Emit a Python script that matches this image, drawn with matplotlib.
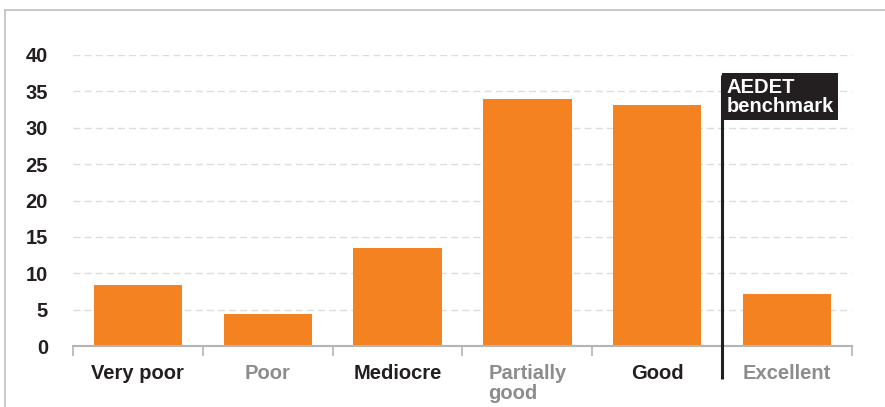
import matplotlib.pyplot as plt
from matplotlib.lines import Line2D
import numpy as np

plt.rcParams['font.family'] = ['Liberation Sans', 'DejaVu Sans']

categories = ['Very poor', 'Poor', 'Mediocre', 'Partially\ngood', 'Good', 'Excellent']
values = [8.4, 4.4, 13.5, 33.9, 33.1, 7.1]
label_colors = ['#231f20', '#8c8c8e', '#231f20', '#8c8c8e', '#231f20', '#8c8c8e']
yticks = [0, 5, 10, 15, 20, 25, 30, 35, 40]
benchmark_pos = 4.5

orange = '#f58220'
dark = '#231f20'

fig = plt.figure(figsize=(8.85, 4.07), dpi=100)
ax = fig.add_axes([73/885, 1 - 346/407, (852 - 73)/885, (346 - 55)/407])

x = np.arange(len(categories))
ax.bar(x, values, width=0.68, color=orange, zorder=2)

ax.set_xlim(-0.5, len(categories) - 0.5)
ax.set_ylim(0, 40)

# dashed grid
ax.set_yticks(yticks)
ax.yaxis.grid(True, color='#dcdcdc', linestyle=(0, (5, 3)), linewidth=1, zorder=0)
ax.set_yticklabels([str(t) for t in yticks], fontsize=14.5, fontweight='bold', color=dark)
ax.tick_params(axis='y', length=0, pad=18)

for s in ['left', 'right', 'top']:
    ax.spines[s].set_visible(False)
ax.spines['bottom'].set_color('#b4b4b4')
ax.spines['bottom'].set_linewidth(1.5)

# category boundaries as ticks, labels in between
ax.set_xticks(np.arange(-0.5, len(categories), 1.0), minor=True)
ax.set_xticks(x)
ax.set_xticklabels(categories, fontsize=14.5, fontweight='bold')
for lbl, c in zip(ax.get_xticklabels(), label_colors):
    lbl.set_color(c)
    lbl.set_verticalalignment('top')
    lbl.set_multialignment('left')
    lbl.set_linespacing(1.05)
ax.tick_params(axis='x', which='major', length=0, pad=13)
ax.tick_params(axis='x', which='minor', length=7, width=1.2, color='#b4b4b4', direction='out')

# benchmark marker
ax.plot([benchmark_pos, benchmark_pos], [-4.6, 37.3], color=dark, linewidth=2.2,
        clip_on=False, zorder=3, solid_capstyle='butt')
ax.text(benchmark_pos + 0.035, 36.9, 'AEDET\nbenchmark', color='white', fontsize=14.5,
        fontweight='bold', ha='left', va='top', linespacing=1.0, zorder=4,
        bbox=dict(boxstyle='square,pad=0.22', facecolor=dark, edgecolor='none'))

# outer frame
fig.add_artist(Line2D([5/885, 5/885], [0, 1 - 10/407], color='#c0c0c0', linewidth=1.2))
fig.add_artist(Line2D([5/885, 1], [1 - 10/407, 1 - 10/407], color='#c0c0c0', linewidth=1.2))

fig.savefig('out.png', dpi=100)
